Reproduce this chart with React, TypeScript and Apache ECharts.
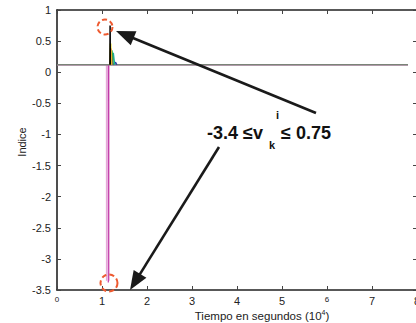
import React, { useEffect, useRef } from "react";
import * as echarts from "echarts";

const xTicks = [0, 1, 2, 3, 4, 5, 6, 7, 8];
const yTicks = [1, 0.5, 0, -0.5, -1, -1.5, -2, -2.5, -3, -3.5];
const baseLevel = 0.12;
const tEnd = 7.8;

// series: [x (10^4 s), indice]
const lightPink1 = [[0, baseLevel], [1.098, baseLevel], [1.1, -3.35], [1.102, baseLevel], [tEnd, baseLevel]];
const lightPink2 = [[0, baseLevel], [1.158, baseLevel], [1.16, -3.35], [1.162, baseLevel], [tEnd, baseLevel]];
const magenta = [[0, baseLevel], [1.138, baseLevel], [1.14, -3.38], [1.142, baseLevel], [tEnd, baseLevel]];
const grayBase = [[0, baseLevel], [tEnd, baseLevel]];
const blackSpike = [[1.175, baseLevel], [1.18, 0.75], [1.185, baseLevel]];
const yellowSpike = [[1.18, baseLevel], [1.19, 0.46], [1.2, baseLevel]];
const redSpike = [[1.19, baseLevel], [1.2, 0.38], [1.22, baseLevel]];
const greenSpike = [[1.2, baseLevel], [1.22, 0.35], [1.25, baseLevel]];
const tealSpike = [[1.22, baseLevel], [1.25, 0.31], [1.28, baseLevel]];
const blueSpike = [[1.25, baseLevel], [1.3, 0.16], [1.33, baseLevel]];

const FONT = "Liberation Sans, Arial, Helvetica, sans-serif";

function arrow(x1: number, y1: number, x2: number, y2: number, L: number, W: number) {
  const dx = x2 - x1, dy = y2 - y1;
  const len = Math.hypot(dx, dy);
  const ux = dx / len, uy = dy / len;
  const nx = -uy, ny = ux;
  const bx = x2 - ux * L, by = y2 - uy * L;
  return [
    { type: "line", shape: { x1, y1, x2: bx + ux * 2, y2: by + uy * 2 }, style: { stroke: "#1a1a1a", lineWidth: 2.6 }, z: 100 },
    {
      type: "polygon",
      shape: { points: [[x2, y2], [bx + nx * W / 2, by + ny * W / 2], [bx - nx * W / 2, by - ny * W / 2]] },
      style: { fill: "#1a1a1a" },
      z: 100,
    },
  ];
}

export default function App() {
  const ref = useRef<HTMLDivElement>(null);
  useEffect(() => {
    const chart = echarts.init(ref.current!, null, { renderer: "svg" });
    const line = (data: number[][], color: string, width = 1, z = 2) => ({
      type: "line",
      data,
      showSymbol: false,
      symbol: "none",
      lineStyle: { color, width },
      z,
    });
    const axisCommon = {
      min: 0,
      max: 8,
      interval: 1,
      axisLine: { onZero: false, lineStyle: { color: "#222", width: 1.6 } },
      axisTick: { inside: true, length: 4, lineStyle: { color: "#444", width: 1 } },
      splitLine: { show: false },
    };
    const yCommon = {
      min: -3.5,
      max: 1,
      interval: 0.5,
      axisLine: { show: true, onZero: false, lineStyle: { color: "#222", width: 1.6 } },
      axisTick: { show: true, inside: true, length: 4, lineStyle: { color: "#444", width: 1 } },
      splitLine: { show: false },
    };
    chart.setOption({
      animation: false,
      grid: { left: 57, top: 10, width: 360, height: 280, containLabel: false, outerBoundsMode: "none" },
      xAxis: [
        {
          type: "value",
          position: "bottom",
          ...axisCommon,
          axisLabel: {
            color: "#222",
            fontFamily: FONT,
            fontSize: 11,
            margin: 5,
            showMaxLabel: true,
            hideOverlap: false,
            formatter: (v: number) => (v === 0 || v === 6 ? `{s|${v}}` : `${v}`),
            rich: { s: { fontSize: 8, fontFamily: FONT, color: "#222", padding: [0, 0, 4, 0] } },
          },
        },
        { type: "value", position: "top", ...axisCommon, axisLabel: { show: false } },
      ],
      yAxis: [
        {
          type: "value",
          position: "left",
          ...yCommon,
          axisLabel: { color: "#222", fontFamily: FONT, fontSize: 11, margin: 6 },
        },
        { type: "value", position: "right", ...yCommon, axisLabel: { show: false } },
      ],
      series: [
        line(lightPink1, "#e6a8d8", 1.2, 2),
        line(lightPink2, "#e6a8d8", 1.2, 2),
        line(magenta, "#c03aa8", 1.2, 3),
        line(grayBase, "#7a8478", 1.4, 4),
        line(blueSpike, "#2a3aa0", 1.5, 5),
        line(tealSpike, "#18a8a0", 1.5, 5),
        line(greenSpike, "#30b040", 1.5, 5),
        line(redSpike, "#e04050", 1.5, 5),
        line(yellowSpike, "#f0e020", 1.8, 6),
        line(blackSpike, "#000000", 1.5, 7),
      ],
      graphic: [
        {
          type: "text",
          x: 22,
          y: 142,
          rotation: Math.PI / 2,
          style: { text: "Indice", font: `11px ${FONT}`, fill: "#222", align: "center", verticalAlign: "middle" },
        },
        {
          type: "text",
          x: 262,
          y: 316,
          style: {
            text: "Tiempo en segundos (10{sup|4})",
            font: `11.5px ${FONT}`,
            fill: "#222",
            align: "center",
            verticalAlign: "middle",
            rich: { sup: { fontSize: 7, fontFamily: FONT, fill: "#222", padding: [0, 0, 7, 0] } },
          },
        },
        {
          type: "text",
          x: 207,
          y: 133,
          style: { text: "-3.4 \u2264v", font: `bold 18px ${FONT}`, fill: "#111", align: "left", verticalAlign: "middle" },
        },
        {
          type: "text",
          x: 269,
          y: 145,
          style: { text: "k", font: `bold 11px ${FONT}`, fill: "#111", align: "left", verticalAlign: "middle" },
        },
        {
          type: "text",
          x: 276,
          y: 115,
          style: { text: "i", font: `bold 11px ${FONT}`, fill: "#111", align: "left", verticalAlign: "middle" },
        },
        {
          type: "text",
          x: 281,
          y: 133,
          style: { text: "\u2264 0.75", font: `bold 18px ${FONT}`, fill: "#111", align: "left", verticalAlign: "middle" },
        },
        ...arrow(316, 113, 116, 31, 19, 15),
        ...arrow(219, 147, 130, 290, 19, 15),
        {
          type: "circle",
          shape: { cx: 105, cy: 27, r: 7.5 },
          style: { fill: "none", stroke: "#ee5a30", lineWidth: 2, lineDash: [5, 3] },
          z: 90,
        },
        {
          type: "circle",
          shape: { cx: 109, cy: 283, r: 8.5 },
          style: { fill: "none", stroke: "#ee5a30", lineWidth: 2, lineDash: [5, 3] },
          z: 90,
        },
      ],
    });
    return () => chart.dispose();
  }, []);
  return <div ref={ref} style={{ width: 416, height: 323, position: "absolute", left: 0, top: 0, background: "#fff" }} />;
}
